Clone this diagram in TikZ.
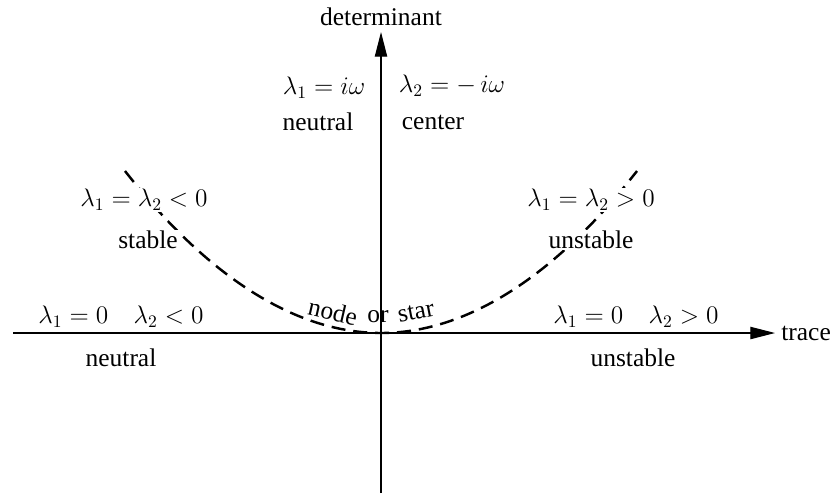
\documentclass[tikz,border=0pt]{standalone}
\usepackage{fontspec}
\setmainfont{Liberation Serif}
\usetikzlibrary{arrows.meta}

\begin{document}
\begin{tikzpicture}[
  x=0.02cm, y=-0.02cm,
  lbl/.style={inner sep=0pt, font=\fontsize{14.5}{17}\selectfont},
  mask/.style={lbl, fill=white, inner sep=0.8pt},
  axis/.style={line width=0.6pt, -{Triangle[length=14pt,width=7pt]}},
  curve/.style={line width=1.4pt, dash pattern=on 8pt off 4.5pt},
  >=Stealth
]
  \useasboundingbox (0,0) rectangle (831,495);
  % axes
  \coordinate (o)    at (381,333);
  \coordinate (xmin) at (13,333);
  \coordinate (xmax) at (775,333);
  \coordinate (ymin) at (381,493);
  \coordinate (ymax) at (381,32);
  \node[lbl, anchor=west]  (trace) at (781,333) {trace};
  \node[lbl]               (det)   at (381,17)  {determinant};
  \draw[axis] (xmin) -- (xmax);
  \draw[axis] (ymin) -- (ymax);
  % repeated root curve
  \coordinate (cl) at (125,171);
  \coordinate (cr) at (637,171);
  \draw[curve] (cl) parabola bend (o) (cr);
  \node[lbl, rotate=-13] (nd) at (333,312) {node};
  \node[lbl]             (or) at (378,317) {or};
  \node[lbl, rotate=11]  (st) at (416,312) {star};
  % upper half
  \node[lbl]  (l1i)  at (324,88)  {$\lambda_1 = i\omega$};
  \node[lbl]  (l2i)  at (452,86)  {$\lambda_2 = -\,i\omega$};
  \node[lbl]  (neu1) at (318,122) {neutral};
  \node[lbl]  (cen)  at (433,122) {center};
  \node[mask] (eqn)  at (144,200) {$\lambda_1 = \lambda_2 < 0$};
  \node[mask] (stab) at (148,240) {stable};
  \node[mask] (eqp)  at (591,200) {$\lambda_1 = \lambda_2 > 0$};
  \node[mask] (uns1) at (591,240) {unstable};
  % on the trace axis
  \node[lbl] (zn)   at (121,317) {$\lambda_1 = 0 \quad \lambda_2 < 0$};
  \node[lbl] (neu2) at (121,358) {neutral};
  \node[lbl] (zp)   at (636,317) {$\lambda_1 = 0 \quad \lambda_2 > 0$};
  \node[lbl] (uns2) at (633,358) {unstable};
\end{tikzpicture}
\end{document}
